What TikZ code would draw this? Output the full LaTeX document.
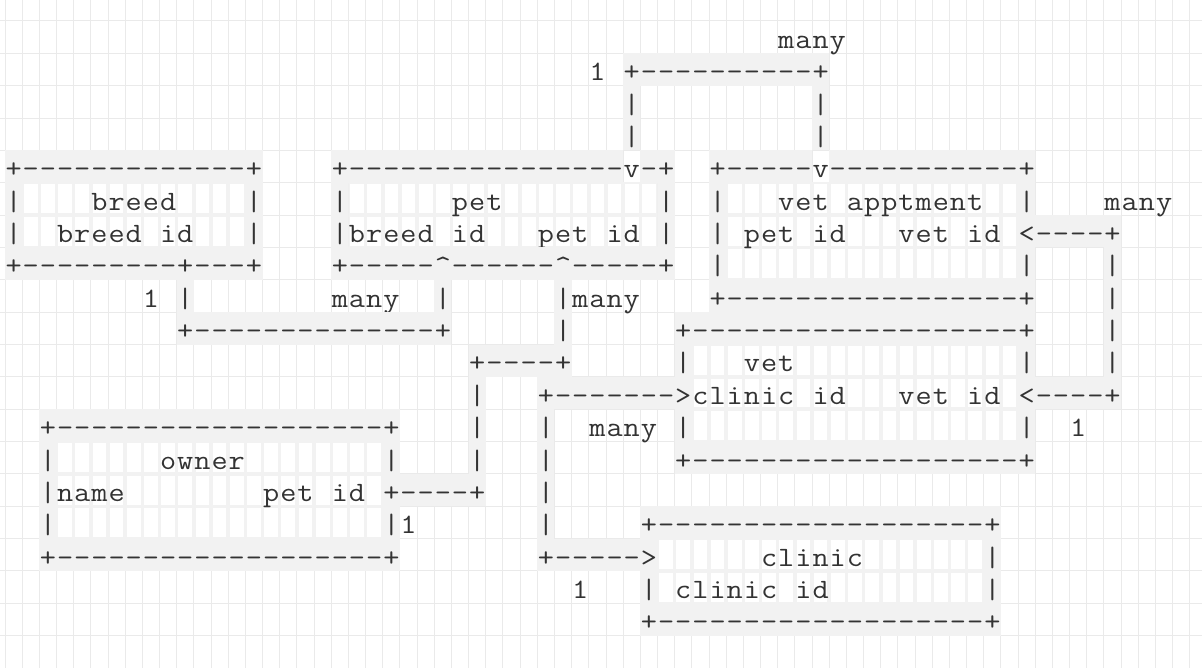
\documentclass[tikz,border=0pt]{standalone}
\usepackage{graphicx}
\usepackage{tikz}
\usepackage{xcolor}

\definecolor{gridgray}{HTML}{EAEAEA}
\definecolor{cellgray}{HTML}{F2F2F2}
\definecolor{inkgray}{HTML}{333333}

\tikzset{
  glyph/.style={font=\ttfamily\fontsize{28}{28}\selectfont, text=inkgray,
    inner sep=0pt, outer sep=0pt, anchor=base},
  gridline/.style={draw=gridgray, line width=1pt},
  cellfill/.style={fill=cellgray},
  boxframe/.style={draw=cellgray, line width=3.5pt}
}

\makeatletter
\newcount\asc@col
\newif\ifasc@line
% one run of characters, one per cell, starting at column #2 of row #1
\newcommand\asciirow{\begingroup\catcode`\ =12\relax\catcode`\^=12\relax\asc@row@i}
\newcommand\asc@row@i[3]{\endgroup\def\asc@r{#1}\asc@col=#2\relax\asc@loop#3\asc@end}
\def\asc@end{\relax}
\def\asc@loop#1{\ifx#1\asc@end\else\asc@cell#1\advance\asc@col by 1\relax\expandafter\asc@loop\fi}
\def\asc@cell#1{%
  \ifnum`#1=32 \else
    \asc@linefalse
    \ifnum`#1=43 \asc@linetrue\fi
    \ifnum`#1=45 \asc@linetrue\fi
    \ifnum`#1=124 \asc@linetrue\fi
    \ifnum`#1=60 \asc@linetrue\fi
    \ifnum`#1=62 \asc@linetrue\fi
    \ifnum`#1=94 \asc@linetrue\fi
    \ifasc@line
      \path[cellfill] (\the\asc@col,\asc@r) rectangle ++(1,1);%
    \fi
    \node[glyph] (g-\asc@r-\the\asc@col) at (\the\asc@col+0.5,\asc@r+0.85) {\scalebox{1.12}[1]{#1}};%
  \fi}
\makeatother

% inside of a box: cells with a wide grey frame
\newcommand\boxinner[4]{%
  \pgfmathtruncatemacro\bxr{#3+1}%
  \pgfmathtruncatemacro\bxb{#4+1}%
  \begin{scope}
    \clip (#1,#2) rectangle (\bxr,\bxb);
    \foreach \k in {#1,...,\bxr} \draw[boxframe] (\k,#2) -- (\k,\bxb);
    \foreach \r in {#2,...,\bxb} \draw[boxframe] (#1,\r) -- (\bxr,\r);
  \end{scope}}

\begin{document}
\begin{tikzpicture}
\useasboundingbox (0pt,0pt) rectangle (1202pt,-668pt);
\fill[white] (0pt,0pt) rectangle (1202pt,-668pt);
\begin{scope}[shift={(5pt,-21pt)}, x=17.1714pt, y=-32.35pt]
  % grid
  \foreach \k in {0,...,69} \draw[gridline] (\k,-1) -- (\k,20.2);
  \foreach \r in {0,...,20} \draw[gridline] (-1,\r) -- (70,\r);
  % boxes
  \boxinner{1}{5}{13}{6}
  \boxinner{20}{5}{37}{6}
  \boxinner{42}{5}{58}{7}
  \boxinner{40}{10}{58}{12}
  \boxinner{3}{13}{21}{15}
  \boxinner{38}{16}{56}{17}
  % text, row by row
  \asciirow{0}{45}{many}
  \asciirow{1}{34}{1 +----------+}
  \asciirow{2}{36}{|}
  \asciirow{2}{47}{|}
  \asciirow{3}{36}{|}
  \asciirow{3}{47}{|}
  \asciirow{4}{0}{+-------------+}
  \asciirow{4}{19}{+----------------v-+}
  \asciirow{4}{41}{+-----v-----------+}
  \asciirow{5}{0}{|    breed    |}
  \asciirow{5}{19}{|      pet         |}
  \asciirow{5}{41}{|   vet apptment  |}
  \asciirow{5}{64}{many}
  \asciirow{6}{0}{|  breed id   |}
  \asciirow{6}{19}{|breed id   pet id |}
  \asciirow{6}{41}{| pet id   vet id <----+}
  \asciirow{7}{0}{+---------+---+}
  \asciirow{7}{19}{+-----^------^-----+}
  \asciirow{7}{41}{|                 |    |}
  \asciirow{8}{8}{1 |        many  |}
  \asciirow{8}{32}{|many}
  \asciirow{8}{41}{+-----------------+    |}
  \asciirow{9}{10}{+--------------+}
  \asciirow{9}{32}{|}
  \asciirow{9}{39}{+-------------------+    |}
  \asciirow{10}{27}{+----+}
  \asciirow{10}{39}{|   vet             |    |}
  \asciirow{11}{27}{|}
  \asciirow{11}{31}{+------->clinic id   vet id <----+}
  \asciirow{12}{2}{+-------------------+}
  \asciirow{12}{27}{|}
  \asciirow{12}{31}{|  many |                   |  1}
  \asciirow{13}{2}{|      owner        |}
  \asciirow{13}{27}{|}
  \asciirow{13}{31}{|       +-------------------+}
  \asciirow{14}{2}{|name        pet id +----+}
  \asciirow{14}{31}{|}
  \asciirow{15}{2}{|                   |1}
  \asciirow{15}{31}{|     +-------------------+}
  \asciirow{16}{2}{+-------------------+}
  \asciirow{16}{31}{+----->      clinic       |}
  \asciirow{17}{33}{1   | clinic id         |}
  \asciirow{18}{37}{+-------------------+}
\end{scope}
\end{tikzpicture}
\end{document}
